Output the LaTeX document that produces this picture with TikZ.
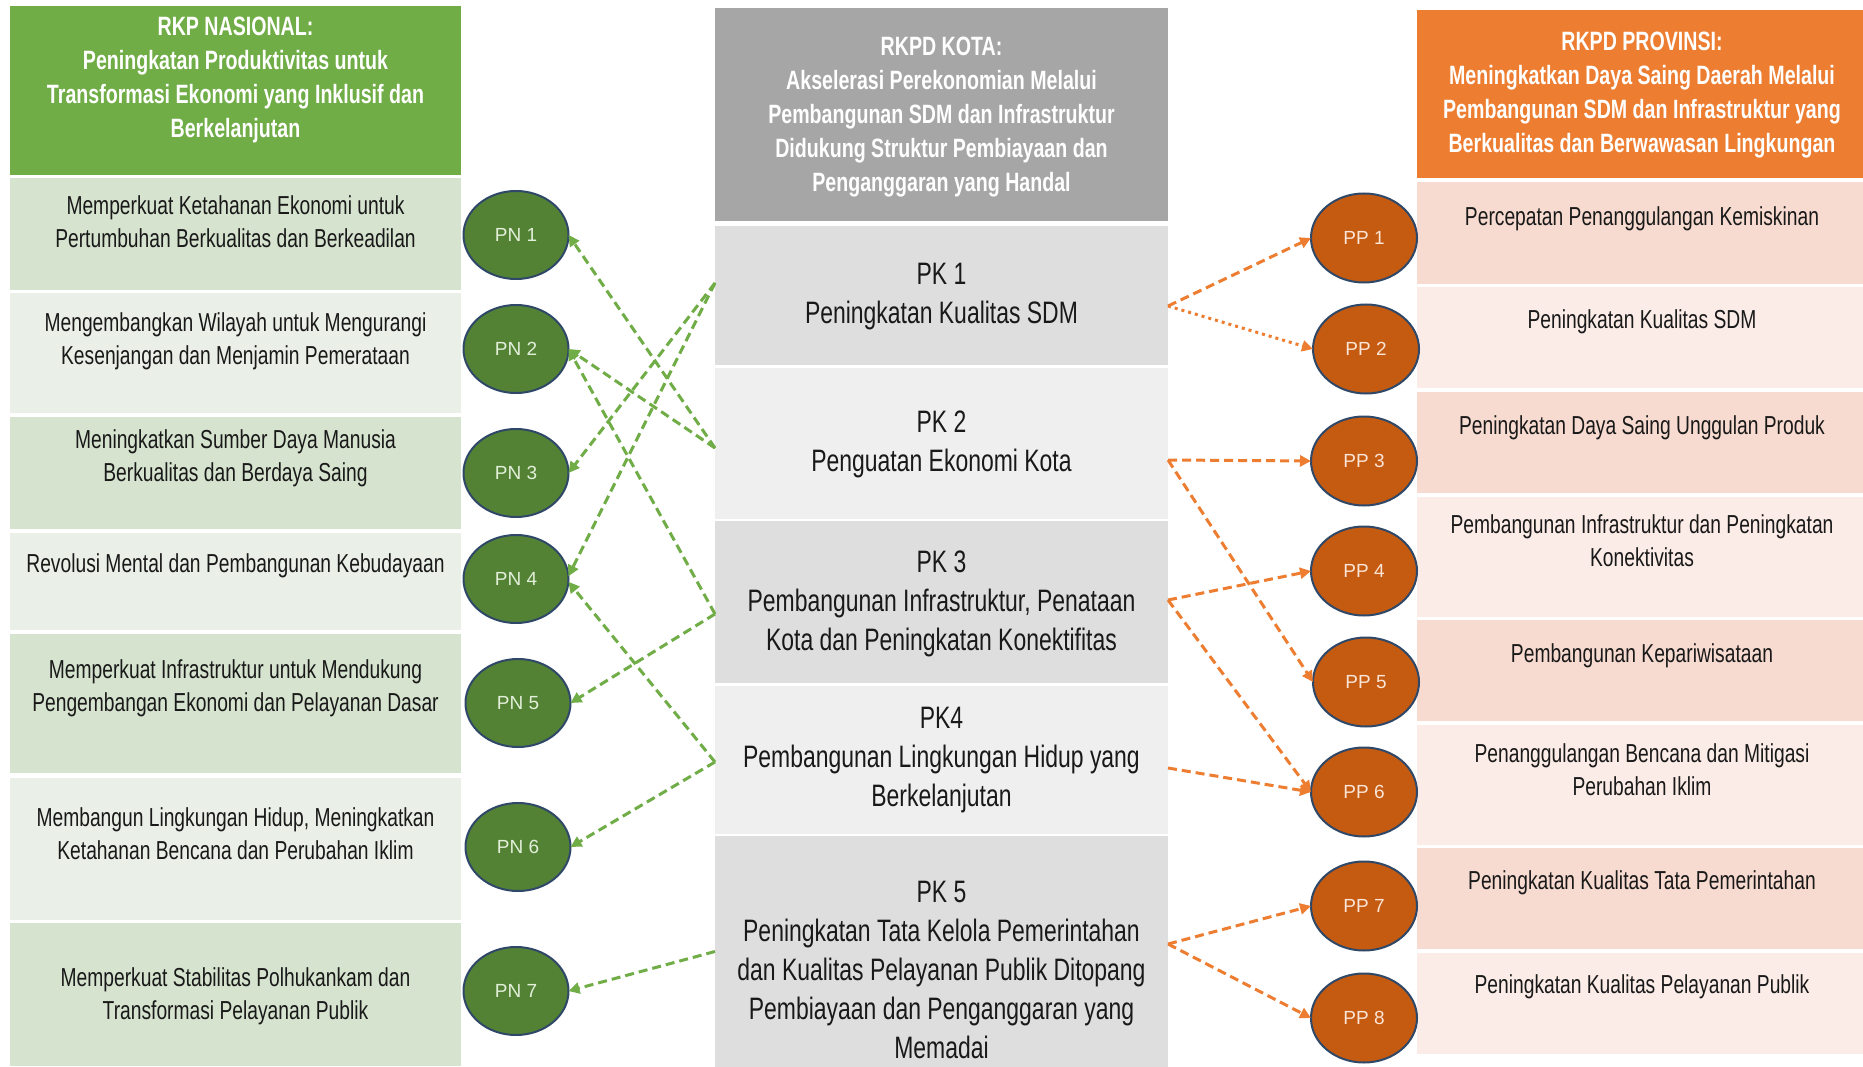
\documentclass[tikz,border=0pt]{standalone}
\usepackage{fontspec}
\setmainfont{Liberation Sans}[FakeStretch=0.74]
\newfontfamily\circfont{Liberation Sans}
\usetikzlibrary{arrows.meta,shapes.geometric}
\definecolor{ghead}{HTML}{70AD47}
\definecolor{gdark}{RGB}{214,227,207}
\definecolor{glight}{RGB}{234,240,231}
\definecolor{khead}{HTML}{A6A6A6}
\definecolor{kdark}{RGB}{222,222,222}
\definecolor{klight}{RGB}{239,239,239}
\definecolor{phead}{HTML}{ED7D31}
\definecolor{pdark}{RGB}{248,219,208}
\definecolor{plight}{RGB}{251,236,231}
\definecolor{pnfill}{HTML}{548235}
\definecolor{ppfill}{HTML}{C55A11}
\definecolor{edgeblue}{RGB}{47,72,104}
\definecolor{pntext}{HTML}{E2EFD9}
\definecolor{pptext}{HTML}{FBE5D6}
\definecolor{txtc}{RGB}{25,25,25}
\definecolor{lgreen}{HTML}{70AD47}
\definecolor{lorange}{HTML}{ED7D31}
\begin{document}
\begin{tikzpicture}[x=1pt,y=-1pt,
  cell/.style={rectangle,inner sep=0pt,outer sep=0pt,draw=none},
  htxt/.style={align=center,inner sep=0pt,text=white,font=\bfseries\fontsize{26.5}{34}\selectfont},
  ltxt/.style={align=center,inner sep=0pt,text=txtc,font=\fontsize{26}{33}\selectfont},
  ktxt/.style={align=center,inner sep=0pt,text=txtc,font=\fontsize{31}{39}\selectfont},
  pnnode/.style={ellipse,draw=edgeblue,line width=2pt,fill=pnfill,minimum width=105pt,minimum height=88pt,inner sep=0pt,outer sep=0pt,text=pntext,font=\circfont\fontsize{19}{19}\selectfont},
  ppnode/.style={ellipse,draw=edgeblue,line width=2pt,fill=ppfill,minimum width=106pt,minimum height=89pt,inner sep=0pt,outer sep=0pt,text=pptext,font=\circfont\fontsize{19}{19}\selectfont},
  garrow/.style={draw=lgreen,line width=3pt,dash pattern=on 9pt off 5pt,-{Triangle[length=11pt,width=11pt]}},
  oarrow/.style={draw=lorange,line width=3pt,dash pattern=on 9pt off 5pt,-{Triangle[length=11pt,width=11pt]}},
  odot/.style={draw=lorange,line width=3pt,dash pattern=on 3pt off 4pt,-{Triangle[length=11pt,width=11pt]}}
]
\useasboundingbox (0,0) rectangle (1863,1067);
\fill[white] (0,0) rectangle (1863,1067);

% ---------- left column ----------
\node[cell,fill=ghead,minimum width=451pt,minimum height=169pt] (gh) at (235.5,90.5) {};
\node[cell,fill=gdark,minimum width=451pt,minimum height=112pt] (g1) at (235.5,234) {};
\node[cell,fill=glight,minimum width=451pt,minimum height=120pt] (g2) at (235.5,353) {};
\node[cell,fill=gdark,minimum width=451pt,minimum height=112pt] (g3) at (235.5,473) {};
\node[cell,fill=glight,minimum width=451pt,minimum height=97pt] (g4) at (235.5,581.5) {};
\node[cell,fill=gdark,minimum width=451pt,minimum height=139pt] (g5) at (235.5,703.5) {};
\node[cell,fill=glight,minimum width=451pt,minimum height=142pt] (g6) at (235.5,849) {};
\node[cell,fill=gdark,minimum width=451pt,minimum height=143pt] (g7) at (235.5,994.5) {};

\node[htxt] (ght) at (235.5,80.5) {RKP NASIONAL:\\Peningkatan Produktivitas untuk\\Transformasi Ekonomi yang Inklusif dan\\Berkelanjutan};
\node[ltxt] (gt1) at (235.5,222) {Memperkuat Ketahanan Ekonomi untuk\\Pertumbuhan Berkualitas dan Berkeadilan};
\node[ltxt] (gt2) at (235.5,341) {Mengembangkan Wilayah untuk Mengurangi\\Kesenjangan dan Menjamin Pemerataan};
\node[ltxt] (gt3) at (235.5,458) {Meningkatkan Sumber Daya Manusia\\Berkualitas dan Berdaya Saing};
\node[ltxt] (gt4) at (235.5,566) {Revolusi Mental dan Pembangunan Kebudayaan};
\node[ltxt] (gt5) at (235.5,688) {Memperkuat Infrastruktur untuk Mendukung\\Pengembangan Ekonomi dan Pelayanan Dasar};
\node[ltxt] (gt6) at (235.5,834) {Membangun Lingkungan Hidup, Meningkatkan\\Ketahanan Bencana dan Perubahan Iklim};
\node[ltxt] (gt7) at (235.5,996) {Memperkuat Stabilitas Polhukankam dan\\Transformasi Pelayanan Publik};

% ---------- middle column ----------
\node[cell,fill=khead,minimum width=453pt,minimum height=213pt] (kh) at (941.5,114.5) {};
\node[cell,fill=kdark,minimum width=453pt,minimum height=139pt] (k1) at (941.5,295.5) {};
\node[cell,fill=klight,minimum width=453pt,minimum height=151pt] (k2) at (941.5,443.5) {};
\node[cell,fill=kdark,minimum width=453pt,minimum height=162pt] (k3) at (941.5,602) {};
\node[cell,fill=klight,minimum width=453pt,minimum height=148pt] (k4) at (941.5,760) {};
\node[cell,fill=kdark,minimum width=453pt,minimum height=231pt] (k5) at (941.5,951.5) {};

\node[htxt] (kht) at (941.5,117) {RKPD KOTA:\\Akselerasi Perekonomian Melalui\\Pembangunan SDM dan Infrastruktur\\Didukung Struktur Pembiayaan dan\\Penganggaran yang Handal};
\node[ktxt] (kt1) at (941.5,296.5) {PK 1\\Peningkatan Kualitas SDM};
\node[ktxt] (kt2) at (941.5,444.5) {PK 2\\Penguatan Ekonomi Kota};
\node[ktxt] (kt3) at (941.5,603.5) {PK 3\\Pembangunan Infrastruktur, Penataan\\Kota dan Peningkatan Konektifitas};
\node[ktxt] (kt4) at (941.5,760.5) {PK4\\Pembangunan Lingkungan Hidup yang\\Berkelanjutan};
\node[ktxt] (kt5) at (941.5,970) {PK 5\\Peningkatan Tata Kelola Pemerintahan\\dan Kualitas Pelayanan Publik Ditopang\\Pembiayaan dan Penganggaran yang\\Memadai};

% ---------- right column ----------
\node[cell,fill=phead,minimum width=446pt,minimum height=168pt] (ph) at (1640,94) {};
\node[cell,fill=pdark,minimum width=446pt,minimum height=102pt] (p1) at (1640,233) {};
\node[cell,fill=plight,minimum width=446pt,minimum height=101pt] (p2) at (1640,337.5) {};
\node[cell,fill=pdark,minimum width=446pt,minimum height=101pt] (p3) at (1640,442.5) {};
\node[cell,fill=plight,minimum width=446pt,minimum height=120pt] (p4) at (1640,557) {};
\node[cell,fill=pdark,minimum width=446pt,minimum height=101pt] (p5) at (1640,670.5) {};
\node[cell,fill=plight,minimum width=446pt,minimum height=120pt] (p6) at (1640,785) {};
\node[cell,fill=pdark,minimum width=446pt,minimum height=101pt] (p7) at (1640,898.5) {};
\node[cell,fill=plight,minimum width=446pt,minimum height=101pt] (p8) at (1640,1003.5) {};

\node[htxt] (pht) at (1642,95.5) {RKPD PROVINSI:\\Meningkatkan Daya Saing Daerah Melalui\\Pembangunan SDM dan Infrastruktur yang\\Berkualitas dan Berwawasan Lingkungan};
\node[ltxt] (pt1) at (1642,219) {Percepatan Penanggulangan Kemiskinan};
\node[ltxt] (pt2) at (1642,322) {Peningkatan Kualitas SDM};
\node[ltxt] (pt3) at (1642,428) {Peningkatan Daya Saing Unggulan Produk};
\node[ltxt] (pt4) at (1642,540.5) {Pembangunan Infrastruktur dan Peningkatan\\Konektivitas};
\node[ltxt] (pt5) at (1642,656) {Pembangunan Kepariwisataan};
\node[ltxt] (pt6) at (1642,769.5) {Penanggulangan Bencana dan Mitigasi\\Perubahan Iklim};
\node[ltxt] (pt7) at (1642,883) {Peningkatan Kualitas Tata Pemerintahan};
\node[ltxt] (pt8) at (1642,987) {Peningkatan Kualitas Pelayanan Publik};

% ---------- circles ----------
\node[pnnode] (pn1) at (516,235) {PN 1};
\node[pnnode] (pn2) at (516,349) {PN 2};
\node[pnnode] (pn3) at (516,473) {PN 3};
\node[pnnode] (pn4) at (516,579) {PN 4};
\node[pnnode] (pn5) at (518,703) {PN 5};
\node[pnnode] (pn6) at (518,847) {PN 6};
\node[pnnode] (pn7) at (516,991) {PN 7};

\node[ppnode] (pp1) at (1364,238) {PP 1};
\node[ppnode] (pp2) at (1366,349) {PP 2};
\node[ppnode] (pp3) at (1364,461) {PP 3};
\node[ppnode] (pp4) at (1364,571) {PP 4};
\node[ppnode] (pp5) at (1366,682) {PP 5};
\node[ppnode] (pp6) at (1364,792) {PP 6};
\node[ppnode] (pp7) at (1364,906) {PP 7};
\node[ppnode] (pp8) at (1364,1018) {PP 8};

% ---------- green connectors ----------
\draw[garrow] ([yshift=-4.5pt]k2.west) -- (pn1.east);
\draw[garrow] ([yshift=-4.5pt]k2.west) -- (pn2.east);
\draw[garrow] ([yshift=-12pt]k3.west) -- (pn2.east);
\draw[garrow] ([yshift=12.5pt]k1.west) -- (pn3.east);
\draw[garrow] ([yshift=12.5pt]k1.west) -- (pn4.3);
\draw[garrow] ([yshift=-2pt]k4.west) -- (pn4.-3);
\draw[garrow] ([yshift=-12pt]k3.west) -- (pn5.east);
\draw[garrow] ([yshift=-2pt]k4.west) -- (pn6.east);
\draw[garrow] (k5.west) -- (pn7.east);

% ---------- orange connectors ----------
\draw[oarrow] ([yshift=-10.5pt]k1.east) -- (pp1.west);
\draw[odot] ([yshift=-10.5pt]k1.east) -- (pp2.west);
\draw[oarrow] ([yshift=-16.5pt]k2.east) -- (pp3.west);
\draw[oarrow] ([yshift=-16.5pt]k2.east) -- (pp5.west);
\draw[oarrow] ([yshift=2pt]k3.east) -- (pp4.west);
\draw[oarrow] ([yshift=2pt]k3.east) -- (pp6.west);
\draw[oarrow] ([yshift=-8pt]k4.east) -- (pp6.west);
\draw[oarrow] ([yshift=7.5pt]k5.east) -- (pp7.west);
\draw[oarrow] ([yshift=7.5pt]k5.east) -- (pp8.west);
\end{tikzpicture}
\end{document}
